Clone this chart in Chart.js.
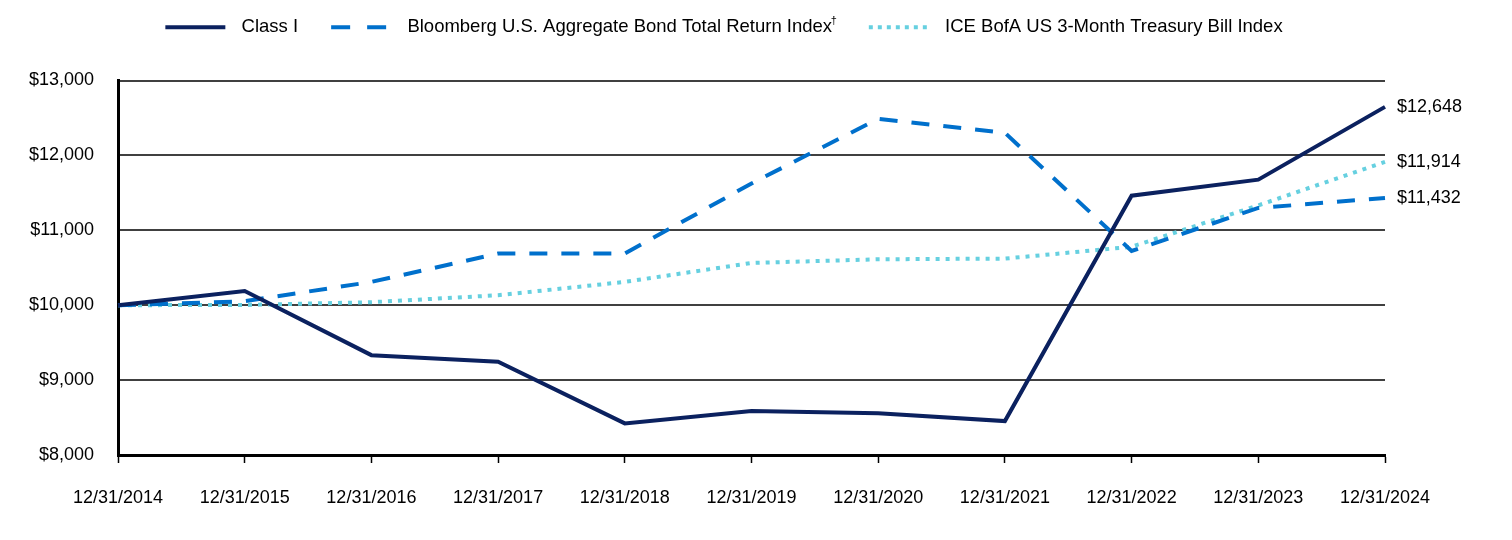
<!DOCTYPE html>
<html>
<head>
<meta charset="utf-8">
<script src="https://cdn.jsdelivr.net/npm/chart.js@4.4.1/dist/chart.umd.min.js"></script>
<style>
  html, body { margin: 0; padding: 0; background: #fff; }
  #wrap { width: 1512px; height: 540px; position: relative; }
</style>
</head>
<body>
<div id="wrap"><canvas id="growthChart"></canvas></div>
<script>
// Growth of $10,000
const dates = ['12/31/2014', '12/31/2015', '12/31/2016', '12/31/2017', '12/31/2018', '12/31/2019',
               '12/31/2020', '12/31/2021', '12/31/2022', '12/31/2023', '12/31/2024'];
const classI    = [10000, 10190, 9333, 9244, 8422, 8587, 8556, 8453, 11462, 11676, 12648];
const bloomberg = [10000, 10053, 10311, 10689, 10689, 11625, 12489, 12302, 10724, 11298, 11432];
const tbill     = [10000, 10003, 10040, 10133, 10311, 10564, 10613, 10622, 10780, 11333, 11914];

const yTicks = [8000, 9000, 10000, 11000, 12000, 13000];
const FONT = "'Liberation Sans', Arial, sans-serif";
const LEGEND_SHIFT = 24;   // legend sits a bit right of canvas centre in the original

const fmtMoney = v => '$' + v.toLocaleString('en-US');

// write the ending value next to the last point of each line
const endLabels = {
  id: 'endLabels',
  afterDatasetsDraw(chart) {
    const ctx = chart.ctx;
    ctx.save();
    ctx.font = '18px ' + FONT;
    ctx.fillStyle = '#000';
    ctx.textAlign = 'left';
    ctx.textBaseline = 'middle';
    chart.data.datasets.forEach((ds, i) => {
      const meta = chart.getDatasetMeta(i);
      const pt = meta.data[meta.data.length - 1];
      ctx.fillText(fmtMoney(ds.data[ds.data.length - 1]), pt.x + 12, pt.y);
    });
    ctx.restore();
  }
};

// legend: extra room under it, shifted right, line samples drawn with each dataset's dash
const legendSamples = {
  id: 'legendSamples',
  afterInit(chart) {
    const legend = chart.legend;
    const fit = legend.fit;
    legend.fit = function() {
      fit.call(this);
      this.height += 34;
    };
    const draw = legend.draw;
    legend.draw = function() {
      const l = this.left, r = this.right;
      this.left += LEGEND_SHIFT;
      this.right += LEGEND_SHIFT;
      draw.call(this);
      this.left = l;
      this.right = r;
    };
  },
  afterDraw(chart) {
    const ctx = chart.ctx;
    const boxes = chart.legend.legendHitBoxes || [];
    const fontSize = chart.options.plugins.legend.labels.font.size;
    ctx.save();
    boxes.forEach((hb, i) => {
      const ds = chart.data.datasets[i];
      const x0 = hb.left + LEGEND_SHIFT;
      const y = hb.top + hb.height / 2;
      ctx.strokeStyle = ds.borderColor;
      ctx.lineWidth = 4;
      ctx.lineCap = 'butt';
      ctx.setLineDash(ds.legendDash || []);
      ctx.beginPath();
      ctx.moveTo(x0 + 15, y);
      ctx.lineTo(x0 + 75, y);
      ctx.stroke();
      if (ds.footMark) {
        // superscript mark after the label text
        ctx.setLineDash([]);
        ctx.font = fontSize + 'px ' + FONT;
        const w = ctx.measureText(ds.label).width;
        ctx.font = '11px ' + FONT;
        ctx.fillStyle = '#000';
        ctx.textAlign = 'left';
        ctx.textBaseline = 'middle';
        ctx.fillText(ds.footMark, x0 + 82 + fontSize / 2 + w - 5, y - 6);
      }
    });
    ctx.restore();
  }
};

new Chart(document.getElementById('growthChart'), {
  type: 'line',
  data: {
    labels: dates,
    datasets: [
      { label: 'Class I', data: classI, borderColor: '#0B215F', backgroundColor: '#0B215F',
        borderWidth: 4, pointRadius: 0, tension: 0, legendDash: [] },
      { label: 'Bloomberg U.S. Aggregate Bond Total Return Index\u2009', data: bloomberg,
        borderColor: '#0070CC', backgroundColor: '#0070CC', borderWidth: 4, borderDash: [18, 14],
        pointRadius: 0, tension: 0, legendDash: [19, 17], footMark: '\u2020' },
      { label: 'ICE BofA US 3-Month Treasury Bill Index', data: tbill, borderColor: '#66D0E0',
        backgroundColor: '#66D0E0', borderWidth: 4, borderDash: [4, 6], pointRadius: 0, tension: 0,
        legendDash: [4, 5] }
    ]
  },
  options: {
    responsive: true,
    maintainAspectRatio: false,
    animation: false,
    layout: { padding: { left: 0, right: 127, top: 0, bottom: 0 } },
    plugins: {
      legend: {
        position: 'top',
        labels: {
          color: '#000',
          font: { family: FONT, size: 18.5 },
          boxWidth: 82,
          boxHeight: 4,
          padding: 18,
          generateLabels(chart) {
            return Chart.defaults.plugins.legend.labels.generateLabels(chart).map(item => {
              item.fillStyle = 'rgba(0,0,0,0)';
              item.strokeStyle = 'rgba(0,0,0,0)';
              item.lineWidth = 0;
              return item;
            });
          }
        }
      },
      tooltip: { enabled: false }
    },
    scales: {
      x: {
        grid: { drawOnChartArea: false, drawTicks: true, tickLength: 8, tickColor: '#000', tickWidth: 1.5 },
        border: { color: '#000', width: 3 },
        ticks: { color: '#000', font: { family: FONT, size: 18 }, padding: 24, maxRotation: 0, autoSkip: false },
        afterFit(scale) { scale.height = 85; }
      },
      y: {
        min: 8000,
        max: 13000,
        afterBuildTicks(scale) { scale.ticks = yTicks.map(v => ({ value: v })); },
        grid: { color: '#404040', lineWidth: 2, drawTicks: false },
        border: { color: '#000', width: 3 },
        ticks: { color: '#000', font: { family: FONT, size: 18 }, padding: 24, callback: v => fmtMoney(v) },
        afterFit(scale) { scale.width = 118; }
      }
    }
  },
  plugins: [endLabels, legendSamples]
});
</script>
</body>
</html>
